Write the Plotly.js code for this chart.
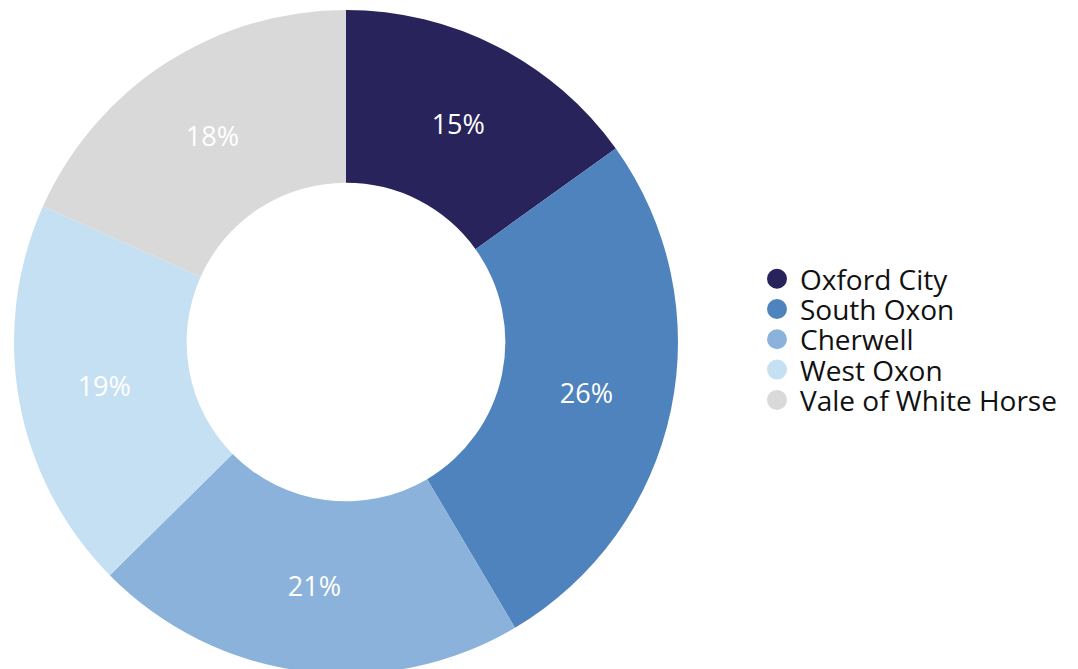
<!DOCTYPE html>
<html>
<head>
<meta charset="utf-8">
<script src="https://cdn.plot.ly/plotly-3.0.1.min.js"></script>
<style>
  html, body { margin: 0; padding: 0; overflow: hidden; background: #fff; }
  #chart { width: 1078px; height: 680px; }
</style>
</head>
<body>
<div id="chart"></div>
<script>
'use strict';

var districts = ['Oxford City', 'South Oxon', 'Cherwell', 'West Oxon', 'Vale of White Horse'];
var shares = [15.1, 26.4, 21.1, 19.1, 18.3];
var colors = ['#29235c', //Oxford navy
'#4f83bd', //mid blue
'#8ab2da', //light blue
'#c5e0f3', //pale blue
'#d9d9d9' //grey
];

var W = 1078;
var H = 680;
var fontFamily = '"Open Sans", "Noto Sans", sans-serif';

// ring geometry in page pixels
var cx = 346, cy = 342, rOut = 332;

var data = [];

data.push({
  type: 'pie',
  labels: districts,
  values: shares,
  sort: false,
  direction: 'clockwise',
  rotation: 0,
  hole: 0.48,
  showlegend: false,
  textinfo: 'percent',
  texttemplate: '%{percent:.0%}',
  textposition: 'inside',
  insidetextorientation: 'horizontal',
  textfont: { family: fontFamily, size: 27, color: '#ffffff' },
  marker: { colors: colors, line: { width: 0 } },
  hoverinfo: 'label+percent',
  domain: {
    x: [(cx - rOut) / W, (cx + rOut) / W],
    y: [(H - (cy + rOut)) / H, (H - (cy - rOut)) / H]
  }
});

// dummy traces so that the legend gets round markers
var legendTop = 279;
var legendStep = 30.3;
var layout = {
  width: W,
  height: H,
  margin: { l: 0, r: 0, t: 0, b: 0 },
  paper_bgcolor: '#ffffff',
  plot_bgcolor: '#ffffff',
  xaxis: { visible: false },
  yaxis: { visible: false },
  font: { family: fontFamily }
};

for (var i = 0; i < districts.length; i++) {
  var legendName = i === 0 ? 'legend' : 'legend' + (i + 1);
  data.push({
    type: 'scatter',
    mode: 'markers',
    x: [null],
    y: [null],
    name: districts[i],
    legend: legendName,
    hoverinfo: 'skip',
    marker: { color: colors[i], size: 16, symbol: 'circle', line: { color: colors[i], width: 4 } }
  });
  layout[legendName] = {
    x: 754 / W,
    y: 1 - (legendTop + i * legendStep) / H,
    xanchor: 'left',
    yanchor: 'middle',
    bgcolor: 'rgba(0,0,0,0)',
    borderwidth: 0,
    itemwidth: 36,
    font: { family: fontFamily, size: 28, color: '#111111' }
  };
}

Plotly.newPlot('chart', data, layout, { displayModeBar: false, staticPlot: true });
</script>
</body>
</html>
